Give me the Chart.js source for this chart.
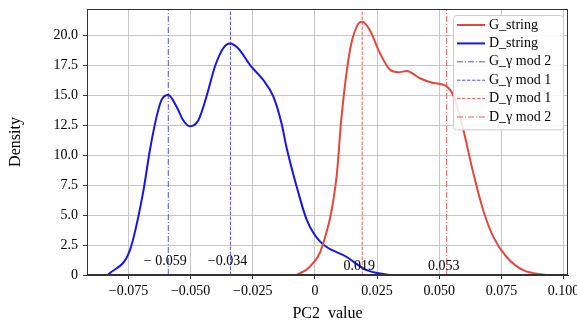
<!DOCTYPE html>
<html>
<head>
<meta charset="utf-8">
<script src="https://cdn.jsdelivr.net/npm/chart.js@4"></script>
<style>
html, body { margin: 0; background: #fff; }
#c { display: block; }
</style>
</head>
<body>
<canvas id="c" width="577" height="322"></canvas>
<script>
// G_string density curve (red)
const gX = [-0.0074, -0.0020, 0.0033, 0.0087, 0.0107, 0.0141, 0.0168, 0.0190, 0.0221, 0.0261, 0.0302, 0.0335, 0.0369, 0.0422, 0.0476, 0.0523, 0.0556, 0.0583, 0.0597, 0.0637, 0.0677, 0.0717, 0.0771, 0.0838, 0.0929];
const gY = [0, 0.7, 2.6, 8.2, 13.2, 18.75, 20.7, 21.1, 20.4, 18.5, 17.1, 16.9, 17.0, 16.4, 16.0, 15.8, 15.0, 13.2, 12.1, 8.5, 5.4, 3.2, 1.5, 0.4, 0];
// D_string density curve (blue)
const dX = [-0.0833, -0.0744, -0.0692, -0.0664, -0.0637, -0.0617, -0.0590, -0.0556, -0.0530, -0.0503, -0.0469, -0.0436, -0.0402, -0.0369, -0.0342, -0.0309, -0.0261, -0.0208, -0.0168, -0.0134, -0.0114, -0.0074, -0.0033, 0.0020, 0.0128, 0.0208, 0.0300];
const dY = [0, 2.1, 6.8, 10.4, 13.2, 14.6, 15.0, 14.0, 12.9, 12.4, 12.9, 14.9, 17.4, 18.9, 19.3, 18.9, 17.5, 16.25, 14.9, 12.6, 10.6, 7.4, 4.6, 2.8, 1.5, 0.4, 0];

// vertical marker lines
const markNames = ["G_γ mod 2", "G_γ mod 1", "D_γ mod 1", "D_γ mod 2"];
const markX = [-0.059, -0.034, 0.019, 0.053];
const markText = ["− 0.059", "−0.034", "0.019", "0.053"];
const markTextY = [1.1, 1.1, 0.75, 0.75];

const xTicks = [-0.075, -0.05, -0.025, 0, 0.025, 0.05, 0.075, 0.1];
const xTickText = ["−0.075", "−0.050", "−0.025", "0", "0.025", "0.050", "0.075", "0.100"];
const yTicks = [0, 2.5, 5, 7.5, 10, 12.5, 15, 17.5, 20];
const yTickText = ["0", "2.5", "5.0", "7.5", "10.0", "12.5", "15.0", "17.5", "20.0"];

const X_MIN = -0.0917, X_MAX = 0.1018, Y_MAX = 22.17;
const RED = "#e5473a", BLUE = "#1515ee";
const SERIF = "'Liberation Serif', 'DejaVu Serif', serif";

const toPts = (xs, ys) => xs.map((x, i) => ({ x: x, y: ys[i] }));

const markColors = ["rgba(50,50,235,0.85)", "rgba(50,50,235,0.85)", "rgba(229,71,58,0.85)", "rgba(229,71,58,0.85)"];
const markDash = [[6, 2, 1, 2], [3.5, 1.5], [3.5, 1.5], [6, 2, 1, 2]];

const datasets = [
  { label: "G_string", data: toPts(gX, gY), borderColor: RED, borderWidth: 2, cubicInterpolationMode: "monotone" },
  { label: "D_string", data: toPts(dX, dY), borderColor: BLUE, borderWidth: 2, cubicInterpolationMode: "monotone" }
];
markX.forEach((x, i) => {
  datasets.push({
    label: markNames[i],
    data: [{ x: x, y: 0 }, { x: x, y: Y_MAX }],
    borderColor: markColors[i],
    borderWidth: 1,
    borderDash: markDash[i]
  });
});

const extras = {
  id: "extras",
  afterDatasetsDraw(chart) {
    const { ctx, chartArea: a, scales } = chart;
    ctx.save();
    // marker value labels
    ctx.fillStyle = "#000";
    ctx.font = "14px " + SERIF;
    ctx.textAlign = "center";
    ctx.textBaseline = "middle";
    markX.forEach((x, i) => {
      ctx.fillText(markText[i], scales.x.getPixelForValue(x) - 3, scales.y.getPixelForValue(markTextY[i]));
    });
    // frame
    ctx.strokeStyle = "#333";
    ctx.lineWidth = 1;
    ctx.strokeRect(a.left + 0.5, a.top + 0.5, a.right - a.left - 1, a.bottom - a.top - 1);
    // legend
    const bx = 453, by = 15, bw = 110, rowH = 18.4;
    const bh = rowH * datasets.length + 4;
    ctx.fillStyle = "rgba(255,255,255,0.85)";
    ctx.strokeStyle = "#cccccc";
    ctx.beginPath();
    ctx.roundRect(bx + 0.5, by + 0.5, bw, bh, 3);
    ctx.fill();
    ctx.stroke();
    ctx.textAlign = "left";
    ctx.font = "14px " + SERIF;
    datasets.forEach((ds, i) => {
      const cy = by + 10 + i * rowH;
      ctx.strokeStyle = ds.borderColor;
      ctx.lineWidth = ds.borderWidth;
      ctx.setLineDash(ds.borderDash || []);
      ctx.beginPath();
      ctx.moveTo(bx + 4, cy);
      ctx.lineTo(bx + 32, cy);
      ctx.stroke();
      ctx.setLineDash([]);
      ctx.fillStyle = "#000";
      ctx.fillText(ds.label, bx + 36, cy);
    });
    ctx.restore();
  }
};

new Chart(document.getElementById("c"), {
  type: "line",
  data: { datasets: datasets },
  options: {
    responsive: false,
    animation: false,
    layout: { padding: { left: 0, top: 9, right: 9, bottom: 0 } },
    elements: { point: { radius: 0 } },
    plugins: { legend: { display: false }, tooltip: { enabled: false } },
    scales: {
      x: {
        type: "linear",
        min: X_MIN,
        max: X_MAX,
        afterBuildTicks: s => { s.ticks = xTicks.map(v => ({ value: v })); },
        afterFit: s => { s.height = 47; s.paddingLeft = 0; s.paddingRight = 0; },
        grid: { color: "#c6c6c6", lineWidth: 1, tickLength: 4, tickColor: "#333" },
        border: { color: "#333" },
        ticks: {
          autoSkip: false, maxRotation: 0, padding: 4, color: "#000",
          font: { family: SERIF, size: 14 },
          callback: (v, i) => xTickText[i]
        },
        title: {
          display: true, text: "PC2  value", color: "#000",
          font: { family: SERIF, size: 16, lineHeight: 1.0 },
          padding: { top: 0, bottom: 0 }
        }
      },
      y: {
        min: 0,
        max: Y_MAX,
        afterBuildTicks: s => { s.ticks = yTicks.map(v => ({ value: v })); },
        afterFit: s => { s.width = 87; s.paddingTop = 0; s.paddingBottom = 0; },
        grid: { color: "#c6c6c6", lineWidth: 1, tickLength: 4, tickColor: "#333" },
        border: { color: "#333" },
        ticks: {
          autoSkip: false, padding: 5, color: "#000",
          font: { family: SERIF, size: 14 },
          callback: (v, i) => yTickText[i]
        },
        title: {
          display: true, text: "Density", color: "#000",
          font: { family: SERIF, size: 16, lineHeight: 1.0 },
          padding: { top: 8, bottom: 0 }
        }
      }
    }
  },
  plugins: [extras]
});
</script>
</body>
</html>
